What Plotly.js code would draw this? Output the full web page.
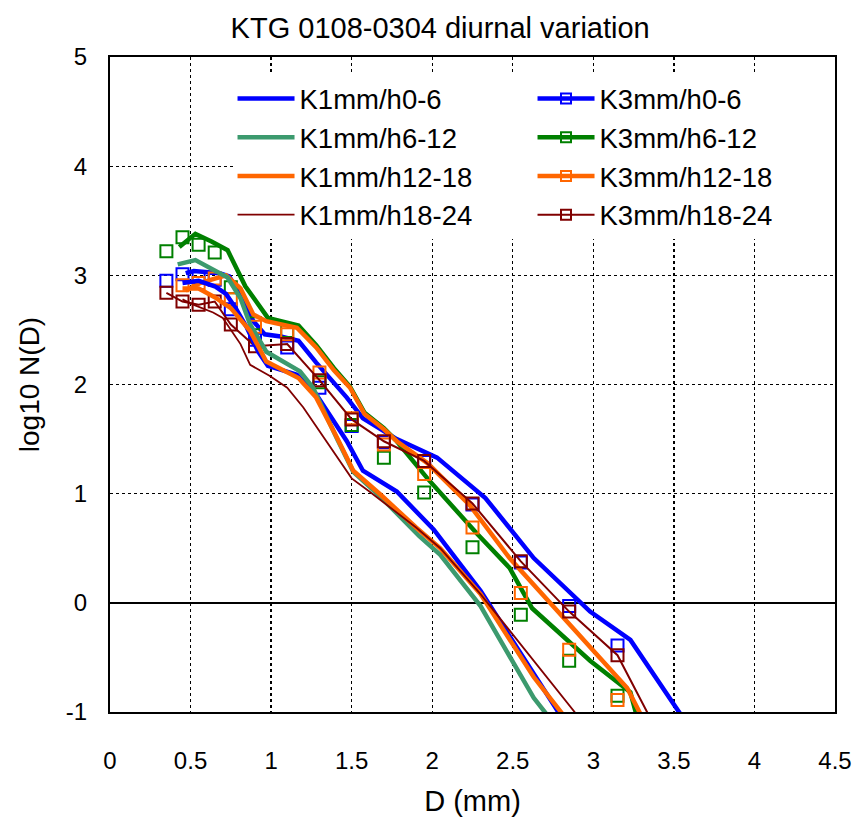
<!DOCTYPE html>
<html>
<head>
<meta charset="utf-8">
<script src="https://cdn.plot.ly/plotly-3.0.1.min.js"></script>
<style>html,body{margin:0;padding:0;background:#fff;}</style>
</head>
<body>
<div id="chart" style="width:858px;height:824px;"></div>
<script>
// ---- Data ----
const titleText = "KTG 0108-0304 diurnal variation";
const xTitle = "D (mm)";
const yTitle = "log10 N(D)";
const xTickVals = [0,0.5,1,1.5,2,2.5,3,3.5,4,4.5];
const xTickText = ["0","0.5","1","1.5","2","2.5","3","3.5","4","4.5"];
const yTickVals = [-1,0,1,2,3,4,5];
const yTickText = ["-1","0","1","2","3","4","5"];

// K1mm lines
const k1_h0_6_D  = [0.45,0.55,0.65,0.72,0.78,0.85,0.92,0.98,1.16,1.28,1.47,1.57,1.78,2.01,2.30,2.63,2.80];
const k1_h0_6_N  = [2.93,2.95,2.90,2.83,2.70,2.52,2.30,2.17,2.09,1.91,1.48,1.21,1.02,0.67,0.11,-0.66,-1.04];
const k1_h6_12_D = [0.42,0.53,0.73,0.81,0.87,0.97,1.18,1.26,1.41,1.51,1.68,1.92,2.05,2.30,2.63,2.72];
const k1_h6_12_N = [3.10,3.14,2.98,2.79,2.55,2.30,2.12,1.97,1.50,1.20,0.97,0.61,0.44,-0.03,-0.87,-1.04];
const k1_h12_18_D = [0.45,0.55,0.65,0.75,0.87,0.97,1.17,1.28,1.41,1.51,1.68,1.90,2.05,2.30,2.63,2.82];
const k1_h12_18_N = [2.88,2.88,2.80,2.70,2.49,2.21,2.06,1.88,1.51,1.21,0.99,0.69,0.50,0.08,-0.68,-1.04];
const k1_h18_24_D = [0.45,0.52,0.64,0.70,0.81,0.87,0.99,1.10,1.20,1.37,1.50,1.61,1.90,2.05,2.30,2.90];
const k1_h18_24_N = [2.78,2.73,2.66,2.61,2.37,2.18,2.08,1.97,1.79,1.42,1.14,1.02,0.69,0.50,0.08,-1.03];

// K3mm lines
const k3_h0_6_D  = [0.47,0.52,0.68,0.74,0.82,0.89,0.96,1.06,1.17,1.28,1.47,1.57,1.78,2.03,2.33,2.63,2.98,3.23,3.55];
const k3_h0_6_N  = [3.02,3.04,3.02,2.99,2.79,2.58,2.46,2.44,2.40,2.20,1.88,1.69,1.50,1.33,0.96,0.41,-0.08,-0.34,-1.04];
const k3_h6_12_D = [0.43,0.53,0.63,0.73,0.84,0.98,1.17,1.28,1.39,1.49,1.58,1.70,1.78,1.97,2.28,2.48,2.62,2.98,3.23,3.27];
const k3_h6_12_N = [3.26,3.38,3.31,3.23,2.90,2.61,2.54,2.36,2.15,1.98,1.74,1.60,1.48,1.14,0.63,0.32,-0.05,-0.53,-0.82,-1.04];
const k3_h12_18_D = [0.47,0.56,0.63,0.72,0.81,0.89,0.97,1.16,1.28,1.39,1.49,1.58,1.70,1.78,1.97,2.23,2.48,2.78,3.21,3.30];
const k3_h12_18_N = [2.86,2.93,2.96,3.00,2.88,2.64,2.58,2.52,2.34,2.13,1.97,1.73,1.59,1.48,1.28,0.90,0.41,-0.08,-0.78,-1.04];
const k3_h18_24_D = [0.35,0.45,0.55,0.65,0.75,0.9,1.1,1.3,1.5,1.7,1.95,2.25,2.55,2.85,3.15,3.45];
const k3_h18_24_N = [2.84,2.76,2.73,2.76,2.55,2.35,2.37,2.04,1.68,1.48,1.30,0.91,0.38,-0.08,-0.48,-1.33];

// K3mm points (squares)
const ptD = [0.35,0.45,0.55,0.65,0.75,0.9,1.1,1.3,1.5,1.7,1.95,2.25,2.55,2.85,3.15];
const pt_h0_6   = [2.95,3.01,2.98,2.96,2.69,2.41,2.34,1.97,1.62,1.47,1.29,0.90,0.37,-0.03,-0.39];
const pt_h6_12  = [3.22,3.35,3.28,3.21,2.89,2.56,2.49,2.02,1.63,1.33,1.01,0.51,-0.11,-0.53,-0.85];
const pt_h12_18 = [null,2.91,2.93,2.97,2.78,2.53,2.46,2.11,1.69,1.45,1.18,0.69,0.09,-0.43,-0.89];
const pt_h18_24 = [2.84,2.76,2.73,2.76,2.55,2.35,2.37,2.04,1.68,1.48,1.30,0.91,0.38,-0.08,-0.48];

const names = ["h0-6","h6-12","h12-18","h18-24"];
const k1Colors = ["#0000ff","#3c9a6e","#ff6600","#800000"];
const k3Colors = ["#0000ff","#008000","#ff6600","#800000"];
const k1Widths = [4.5,4.5,4.5,1.8];
const k3Widths = [4.5,4.5,4.5,2];

const k1D = [k1_h0_6_D,k1_h6_12_D,k1_h12_18_D,k1_h18_24_D];
const k1N = [k1_h0_6_N,k1_h6_12_N,k1_h12_18_N,k1_h18_24_N];
const k3D = [k3_h0_6_D,k3_h6_12_D,k3_h12_18_D,k3_h18_24_D];
const k3N = [k3_h0_6_N,k3_h6_12_N,k3_h12_18_N,k3_h18_24_N];
const ptN = [pt_h0_6,pt_h6_12,pt_h12_18,pt_h18_24];

const traces = [];
const drawn = [];
for (let i = 0; i < 4; i++) {
  traces.push({x:k1D[i], y:k1N[i], mode:'lines', name:'K1mm/'+names[i],
    line:{color:k1Colors[i], width:k1Widths[i]}});
  // K3 legend item (line + square); data drawn by the traces below
  traces.push({x:[null], y:[null], mode:'lines+markers', name:'K3mm/'+names[i],
    line:{color:k3Colors[i], width:k3Widths[i]},
    marker:{symbol:'square-open', size:10, color:k3Colors[i], line:{width:2}}});
}
for (let i = 0; i < 4; i++) {
  drawn.push({x:k3D[i], y:k3N[i], mode:'lines', showlegend:false,
    line:{color:k3Colors[i], width:k3Widths[i]}});
  drawn.push({x:ptD, y:ptN[i], mode:'markers', showlegend:false,
    marker:{symbol:'square-open', size:12, color:k3Colors[i], line:{width:2}}});
}
const data = drawn.concat(traces);

const font = {family:'"Liberation Sans", Arial, sans-serif', color:'#000'};

const layout = {
  width:858, height:824,
  margin:{l:110, r:23, t:57, b:112, autoexpand:false},
  paper_bgcolor:'#fff', plot_bgcolor:'#fff',
  font:Object.assign({size:24}, font),
  title:{text:titleText, x:0.513, xref:'container', xanchor:'center', y:0.966, yanchor:'middle',
    font:Object.assign({size:29}, font)},
  xaxis:{range:[0,4.5], tickmode:'array', tickvals:xTickVals, ticktext:xTickText,
    showgrid:true, gridcolor:'#000', griddash:'dot', gridwidth:1.3,
    showline:true, mirror:true, linecolor:'#000', linewidth:2, zeroline:false, ticks:'',
    ticklabelstandoff:26, tickfont:Object.assign({size:24}, font),
    title:{text:xTitle, standoff:18, font:Object.assign({size:29}, font)}},
  yaxis:{range:[-1,5], tickmode:'array', tickvals:yTickVals, ticktext:yTickText,
    showgrid:true, gridcolor:'#000', griddash:'dot', gridwidth:1.3,
    showline:true, mirror:true, linecolor:'#000', linewidth:2,
    zeroline:true, zerolinecolor:'#000', zerolinewidth:2, ticks:'',
    ticklabelstandoff:16, tickfont:Object.assign({size:24}, font),
    title:{text:yTitle, standoff:18, font:Object.assign({size:28}, font)}},
  legend:{orientation:'h', x:0.169, y:0.974, xanchor:'left', yanchor:'top',
    bgcolor:'#fff', borderwidth:0, itemwidth:57, entrywidth:228, traceorder:'normal',
    font:Object.assign({size:27.5}, font), itemclick:false},
  showlegend:true
};

Plotly.newPlot('chart', data, layout, {displayModeBar:false, staticPlot:true});
</script>
</body>
</html>
